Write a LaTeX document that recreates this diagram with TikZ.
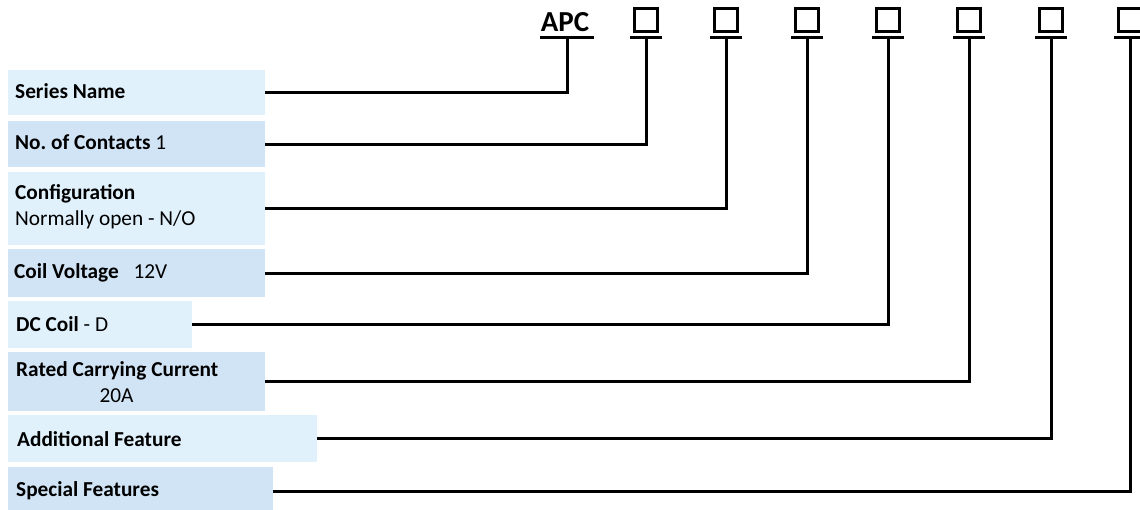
\documentclass[tikz,border=0pt]{standalone}
\usepackage{fontspec}
\setmainfont{Carlito}
\frenchspacing
\definecolor{boxlight}{RGB}{224,241,252}
\definecolor{boxdark}{RGB}{209,228,245}
\tikzset{
  lbox/.style={draw=none, inner sep=0pt, anchor=north west},
  txt/.style={inner sep=0pt, anchor=base west, font=\fontsize{21.3}{24}\selectfont},
  codesq/.style={draw=black, line width=2.7pt, minimum size=23.5pt, inner sep=0pt},
  codetxt/.style={inner sep=0pt, anchor=base west, font=\fontsize{29}{32}\selectfont\bfseries},
  uline/.style={line width=2.7pt},
  conn/.style={line width=3pt, line join=miter},
}
\begin{document}
\begin{tikzpicture}[x=1pt,y=-1pt]
\useasboundingbox (0,0) rectangle (1140,510);
% left boxes
\node[lbox, fill=boxlight, minimum width=257pt, minimum height=45pt] (sn) at (8,70) {};
\node[lbox, fill=boxdark, minimum width=257pt, minimum height=46pt] (nc) at (8,121) {};
\node[lbox, fill=boxlight, minimum width=257pt, minimum height=73pt] (cf) at (8,172) {};
\node[lbox, fill=boxdark, minimum width=257pt, minimum height=48pt] (cv) at (8,249) {};
\node[lbox, fill=boxlight, minimum width=184pt, minimum height=47pt] (dc) at (8,301) {};
\node[lbox, fill=boxdark, minimum width=257pt, minimum height=59pt] (rc) at (8,352) {};
\node[lbox, fill=boxlight, minimum width=309pt, minimum height=47pt] (af) at (8,415) {};
\node[lbox, fill=boxdark, minimum width=265pt, minimum height=45pt] (sf) at (8,467) {};
% texts
\node[txt] (t1) at (15,98.3) {\bfseries Series Name};
\node[txt] (t2) at (15,150) {\textbf{No. of Contacts} 1};
\node[txt] (t3a) at (15,200) {\bfseries Configuration};
\node[txt] (t3b) at (15,225.7) {Normally open - N/O};
\node[txt] (t4a) at (14,279) {\bfseries Coil Voltage};
\node[txt] (t4b) at (133.3,279) {12V};
\node[txt] (t5) at (16,331.7) {\textbf{DC Coil} - D};
\node[txt] (t6a) at (16,376.7) {\bfseries Rated Carrying Current};
\node[txt] (t6b) at (99.3,402.7) {20A};
\node[txt] (t7) at (17,446.7) {\bfseries Additional Feature};
\node[txt] (t8) at (16,496.7) {\bfseries Special Features};
% code row
\node[codetxt] (c0) at (540.7,31.7) {APC};
\node[codesq] (c1) at (646,20) {};
\node[codesq] (c2) at (726,20) {};
\node[codesq] (c3) at (807,20) {};
\node[codesq] (c4) at (888,20) {};
\node[codesq] (c5) at (969,20) {};
\node[codesq] (c6) at (1051,20) {};
\node[codesq] (c7) at (1130,20) {};
% underline points
\coordinate (u0) at (567,37.7);
\coordinate (u1) at (646,37.7);
\coordinate (u2) at (726,37.7);
\coordinate (u3) at (807,37.7);
\coordinate (u4) at (888,37.7);
\coordinate (u5) at (969,37.7);
\coordinate (u6) at (1051,37.7);
\coordinate (u7) at (1130,37.7);
\draw[uline] (540,37.7) -- (594,37.7);
\foreach \u in {u1,u2,u3,u4,u5,u6,u7}{
  \draw[uline] (\u) ++(-16,0) -- ++(32,0);
}
% connectors
\draw[conn] (sn.east) -| (u0);
\draw[conn] (nc.east) -| (u1);
\draw[conn] (cf.east) -| (u2);
\draw[conn] (cv.east) -| (u3);
\draw[conn] (dc.east) -| (u4);
\draw[conn] (rc.east) -| (u5);
\draw[conn] (af.east) -| (u6);
\draw[conn] ([yshift=-1.5pt]sf.east) -| (u7);
\end{tikzpicture}
\end{document}
